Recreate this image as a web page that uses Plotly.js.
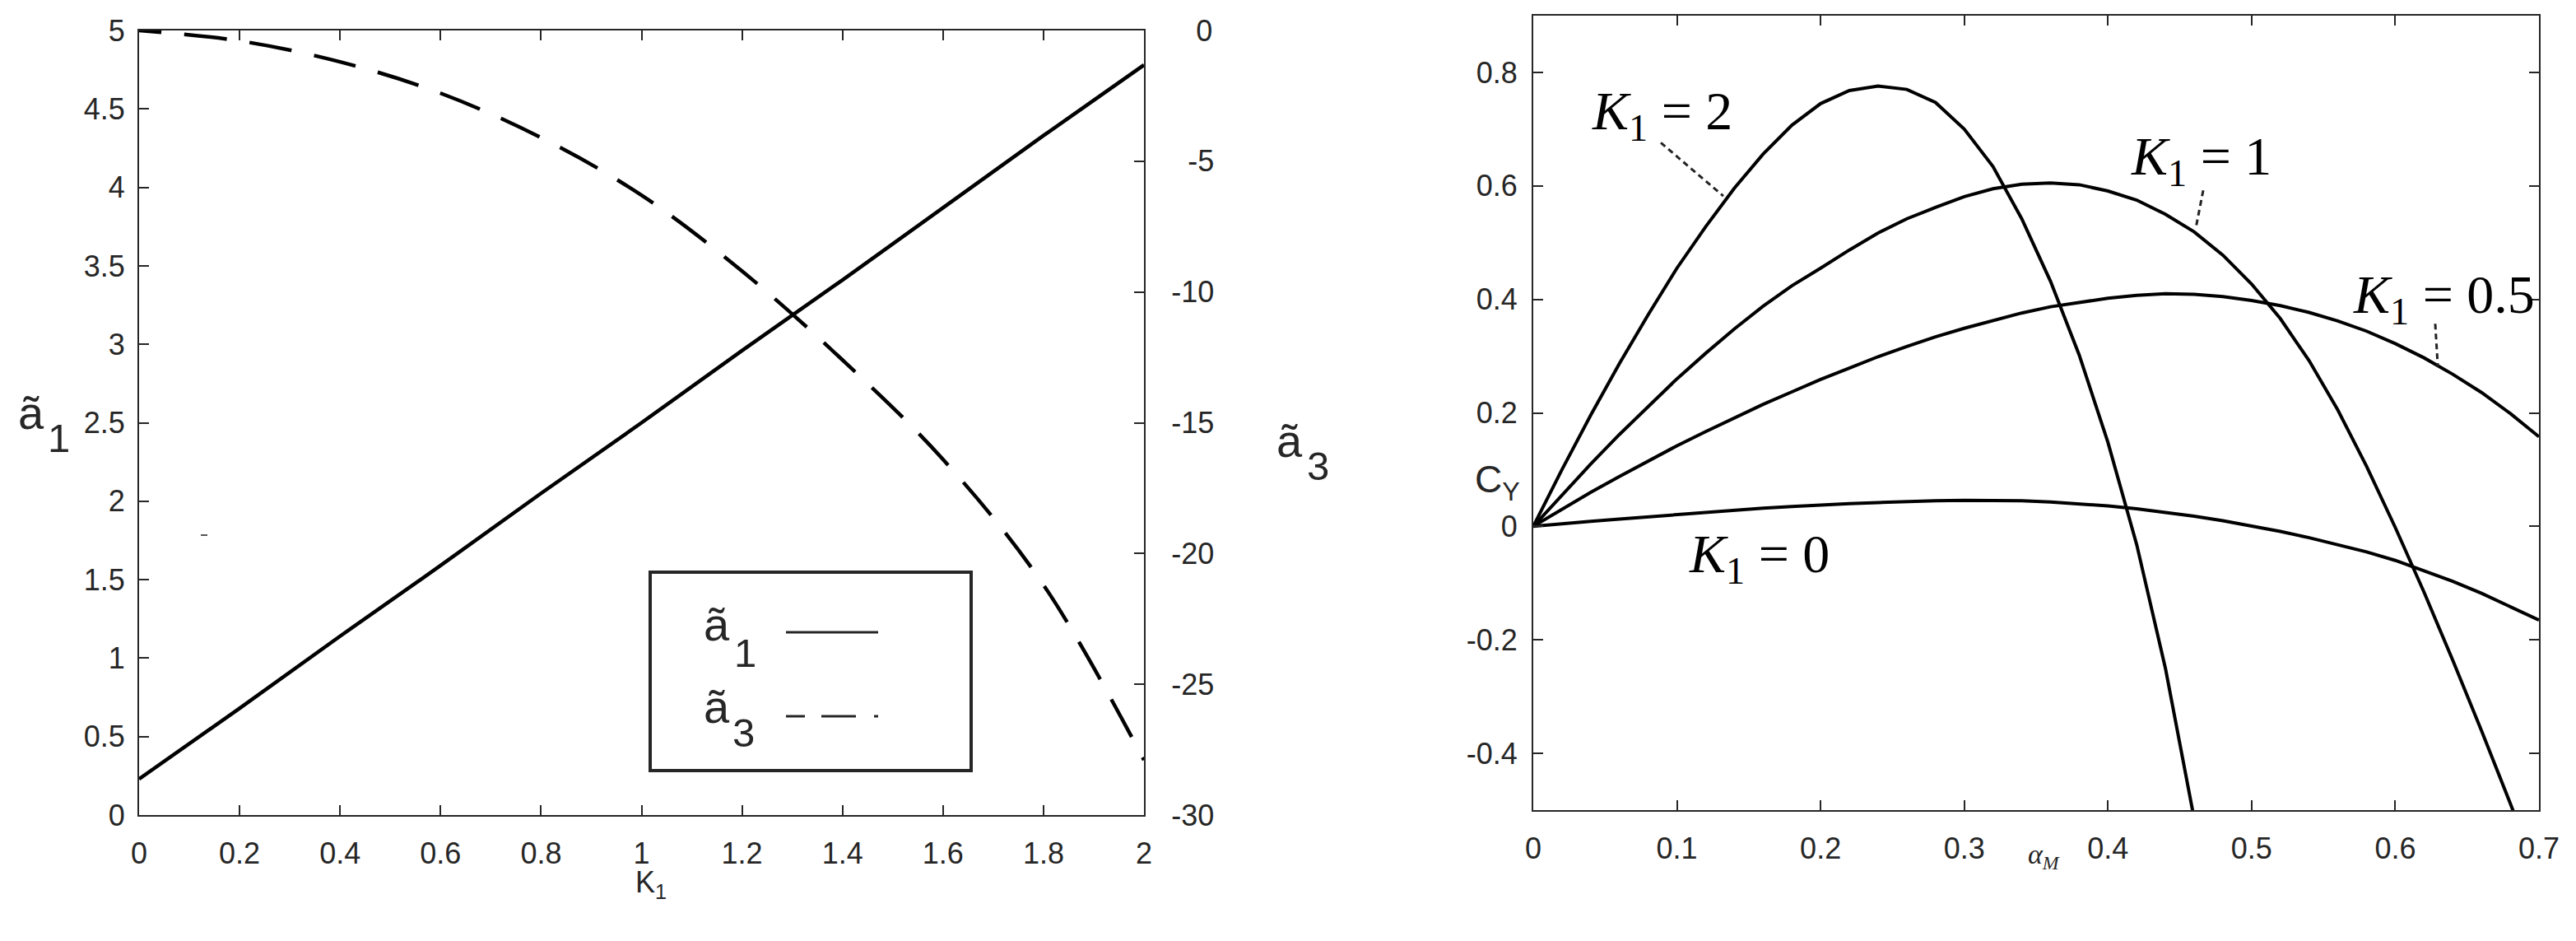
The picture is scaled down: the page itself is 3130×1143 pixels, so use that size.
<!DOCTYPE html>
<html>
<head>
<meta charset="utf-8">
<script src="https://cdn.plot.ly/plotly-3.0.1.min.js"></script>
<style>
  body { margin: 0; background: #fff; }
  #chart { width: 3130px; height: 1143px; }
</style>
</head>
<body>
<div id="chart"></div>
<script>
// ---- left panel: a1 (left axis) and a3 (right axis) against K1 ----
var K1 = [0, 0.2, 0.4, 0.6, 0.8, 1, 1.2, 1.4, 1.6, 1.8, 2];
var a1 = [0.23, 0.68, 1.14, 1.59, 2.05, 2.50, 2.96, 3.41, 3.87, 4.33, 4.78];
var a3 = [0, -0.4, -1.2, -2.4, -4.1, -6.3, -9.2, -12.6, -16.4, -21.2, -27.9];

// ---- right panel: C_Y against alpha_M for several K1 ----
var alphaM = [0, 0.02, 0.04, 0.06, 0.08, 0.10, 0.12, 0.14, 0.16, 0.18,
              0.20, 0.22, 0.24, 0.26, 0.28, 0.30, 0.32, 0.34, 0.36, 0.38,
              0.40, 0.42, 0.44, 0.46, 0.48, 0.50, 0.52, 0.54, 0.56, 0.58,
              0.60, 0.62, 0.64, 0.66, 0.68, 0.70];
var cyK0 = [0, 0.005, 0.009, 0.013, 0.017, 0.021, 0.025, 0.029, 0.032, 0.035,
            0.038, 0.040, 0.042, 0.044, 0.045, 0.046, 0.046, 0.045, 0.043, 0.040,
            0.036, 0.031, 0.025, 0.018, 0.010, 0.001, -0.009, -0.020, -0.032, -0.045,
            -0.060, -0.078, -0.097, -0.118, -0.141, -0.165];
var cyK05 = [0, 0.030, 0.060, 0.088, 0.115, 0.142, 0.167, 0.191, 0.215, 0.237,
             0.259, 0.279, 0.299, 0.317, 0.334, 0.349, 0.363, 0.376, 0.387, 0.395,
             0.402, 0.407, 0.410, 0.409, 0.405, 0.398, 0.389, 0.377, 0.362, 0.344,
             0.322, 0.297, 0.268, 0.236, 0.199, 0.158];
var cyK1 = [0, 0.056, 0.110, 0.162, 0.212, 0.260, 0.305, 0.348, 0.388, 0.424,
            0.455, 0.487, 0.517, 0.542, 0.562, 0.581, 0.595, 0.603, 0.605, 0.602,
            0.591, 0.575, 0.550, 0.519, 0.478, 0.427, 0.366, 0.292, 0.205, 0.106,
            -0.002, -0.116, -0.236, -0.360, -0.488, -0.620];
var cyK2 = [0, 0.100, 0.196, 0.287, 0.373, 0.455, 0.528, 0.596, 0.656, 0.707,
            0.745, 0.768, 0.776, 0.770, 0.747, 0.700, 0.634, 0.542, 0.432, 0.302,
            0.148, -0.032, -0.250, -0.505, -0.780];

// tick labels
var a1Ticks = [0, 0.5, 1, 1.5, 2, 2.5, 3, 3.5, 4, 4.5, 5];
var a3Ticks = [0, -5, -10, -15, -20, -25, -30];
var a3TickText = ['\u2007\u20080', '\u2007-5', '-10', '-15', '-20', '-25', '-30'];
var cyTicks = [-0.4, -0.2, 0, 0.2, 0.4, 0.6, 0.8];
var cyTickText = ['-0.4', '-0.2', '0', '0.2', '0.4', '0.6', '0.8'];

var W = 3130, H = 1143;
function px(x) { return x / W; }
function py(y) { return 1 - y / H; }

var axisColor = '#262626';
var serif = 'Liberation Serif, Times New Roman, serif';
var sans = 'Liberation Sans, Arial, sans-serif';
var tickFont = { family: sans, size: 36, color: axisColor };

// dash pattern of the a3 curve: short start, then long dashes
var dashParts = ['27px', '28px'];
for (var i = 0; i < 30; i++) { dashParts.push('52px', '28px'); }

var traces = [
    {
        x: K1, y: a1, xaxis: 'x', yaxis: 'y',
        mode: 'lines', line: { color: '#000', width: 4.5 },
        showlegend: false, hoverinfo: 'skip'
    },
    {
        x: K1, y: a3, xaxis: 'x', yaxis: 'y2',
        mode: 'lines', line: { color: '#000', width: 4.5, shape: 'spline', dash: dashParts.join(',') },
        showlegend: false, hoverinfo: 'skip'
    }
];
[cyK0, cyK05, cyK1, cyK2].forEach(function(cy) {
    traces.push({
        x: alphaM.slice(0, cy.length), y: cy, xaxis: 'x2', yaxis: 'y3',
        mode: 'lines', line: { color: '#000', width: 4 },
        showlegend: false, hoverinfo: 'skip'
    });
});

function baseAxis(extra) {
    var ax = {
        showgrid: false, zeroline: false, showline: true,
        linecolor: axisColor, linewidth: 2,
        ticks: 'inside', ticklen: 12, tickwidth: 2, tickcolor: axisColor,
        tickfont: tickFont, fixedrange: true
    };
    for (var k in extra) ax[k] = extra[k];
    return ax;
}

// "ã" with a large subscript, placed by baselines (pixels from top-left)
function tildeLabel(x, baseline, sub, subX, subBaseline) {
    return [
        { xref: 'paper', yref: 'paper', x: px(x), y: py(baseline - 0.35 * 56), xanchor: 'left', yanchor: 'middle',
          showarrow: false, text: 'ã', font: { family: sans, size: 56, color: axisColor } },
        { xref: 'paper', yref: 'paper', x: px(subX), y: py(subBaseline - 0.35 * 49), xanchor: 'left', yanchor: 'middle',
          showarrow: false, text: sub, font: { family: sans, size: 49, color: axisColor } }
    ];
}

var annotations = [
    { xref: 'paper', yref: 'paper', x: px(770), y: py(1074), xanchor: 'left', yanchor: 'middle', showarrow: false,
      text: "K<sub>1</sub>", font: { family: sans, size: 36, color: axisColor } },
    { xref: 'paper', yref: 'paper', x: px(1790), y: py(585), xanchor: 'left', yanchor: 'middle', showarrow: false,
      text: "C<sub>Y</sub>", font: { family: sans, size: 46, color: axisColor } },
    { xref: 'paper', yref: 'paper', x: px(2462), y: py(1040), xanchor: 'left', yanchor: 'middle', showarrow: false,
      text: "<i>α</i><sub><i>M</i></sub>", font: { family: serif, size: 34, color: axisColor } },
    // curve labels on the right panel
    { xref: 'x2', yref: 'y3', x: 0.0894, y: 0.725, xanchor: 'center', yanchor: 'middle', showarrow: false,
      text: "<i>K</i><sub>1</sub> = 2", font: { family: serif, size: 66, color: '#000' } },
    { xref: 'x2', yref: 'y3', x: 0.465, y: 0.645, xanchor: 'center', yanchor: 'middle', showarrow: false,
      text: "<i>K</i><sub>1</sub> = 1", font: { family: serif, size: 66, color: '#000' } },
    { xref: 'x2', yref: 'y3', x: 0.6336, y: 0.402, xanchor: 'center', yanchor: 'middle', showarrow: false,
      text: "<i>K</i><sub>1</sub> = 0.5", font: { family: serif, size: 66, color: '#000' } },
    { xref: 'x2', yref: 'y3', x: 0.1575, y: -0.055, xanchor: 'center', yanchor: 'middle', showarrow: false,
      text: "<i>K</i><sub>1</sub> = 0", font: { family: serif, size: 66, color: '#000' } }
]
    .concat(tildeLabel(20, 521, '1', 56, 549))      // left axis title
    .concat(tildeLabel(1549, 555, '3', 1586, 583))  // right axis title
    .concat(tildeLabel(853, 778, '1', 890, 810))    // legend entry 1
    .concat(tildeLabel(853, 878, '3', 888, 907));   // legend entry 2

var layout = {
    width: W, height: H,
    margin: { l: 0, r: 0, t: 0, b: 0 },
    paper_bgcolor: '#fff', plot_bgcolor: '#fff',
    showlegend: false,
    xaxis: baseAxis({ domain: [px(169), px(1390)], anchor: 'y', range: [0, 2], dtick: 0.2, tick0: 0,
                      mirror: 'ticks', ticklabelstandoff: 14 }),
    yaxis: baseAxis({ domain: [py(990), py(37)], anchor: 'x', range: [0, 5],
                      tickvals: a1Ticks, ticklabelstandoff: 8 }),
    yaxis2: baseAxis({ overlaying: 'y', side: 'right', anchor: 'x', range: [-30, 0],
                       tickvals: a3Ticks, ticktext: a3TickText, ticklabelstandoff: 24 }),
    xaxis2: baseAxis({ domain: [px(1863), px(3085)], anchor: 'y3', range: [0, 0.7], dtick: 0.1, tick0: 0,
                       mirror: 'ticks', ticklabelstandoff: 14 }),
    yaxis3: baseAxis({ domain: [py(984), py(19)], anchor: 'x2', range: [-0.5, 0.9],
                       tickvals: cyTicks, ticktext: cyTickText, mirror: 'ticks', ticklabelstandoff: 10 }),
    shapes: [
        // legend box
        { type: 'rect', xref: 'paper', yref: 'paper', x0: px(790), x1: px(1180), y0: py(936), y1: py(695),
          line: { color: axisColor, width: 4 }, fillcolor: 'rgba(0,0,0,0)' },
        { type: 'line', xref: 'paper', yref: 'paper', x0: px(955), x1: px(1067), y0: py(768), y1: py(768),
          line: { color: axisColor, width: 3 } },
        { type: 'line', xref: 'paper', yref: 'paper', x0: px(955), x1: px(1067), y0: py(870), y1: py(870),
          line: { color: axisColor, width: 3, dash: '23px,20px,42px,22px' } },
        // small stray mark
        { type: 'line', xref: 'paper', yref: 'paper', x0: px(244), x1: px(252), y0: py(650), y1: py(650),
          line: { color: '#555', width: 2 } },
        // label pointers on the right panel
        { type: 'line', xref: 'x2', yref: 'y3', x0: 0.0888, y0: 0.676, x1: 0.1323, y1: 0.582,
          line: { color: '#222', width: 3, dash: '7px,5px' } },
        { type: 'line', xref: 'x2', yref: 'y3', x0: 0.4663, y0: 0.592, x1: 0.4611, y1: 0.525,
          line: { color: '#222', width: 3, dash: '7px,5px' } },
        { type: 'line', xref: 'x2', yref: 'y3', x0: 0.6278, y0: 0.357, x1: 0.6296, y1: 0.2816,
          line: { color: '#222', width: 3, dash: '7px,5px' } }
    ],
    annotations: annotations
};

Plotly.newPlot('chart', traces, layout, { staticPlot: true, displayModeBar: false });
</script>
</body>
</html>
